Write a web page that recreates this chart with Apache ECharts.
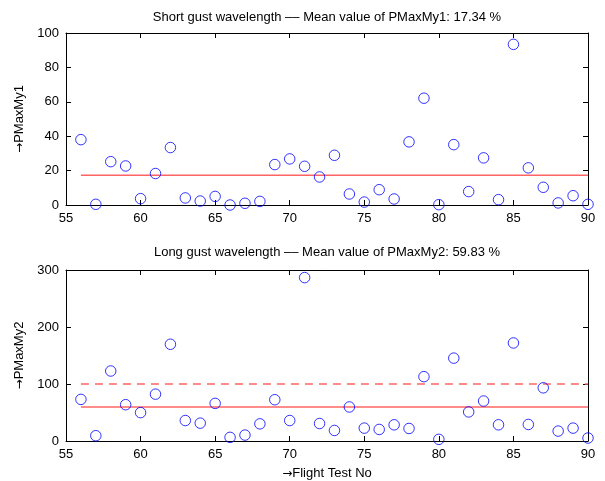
<!DOCTYPE html>
<html><head><meta charset="utf-8">
<script src="https://cdn.jsdelivr.net/npm/echarts@6/dist/echarts.min.js"></script>
<style>html,body{margin:0;padding:0;background:#fff}#c{width:605px;height:481px}</style>
</head><body><div id="c"></div>
<script>
const testNo = [56,57,58,59,60,61,62,63,64,65,66,67,68,69,70,71,72,73,74,75,76,77,78,79,80,81,82,83,84,85,86,87,88,89,90];
const pMaxMy1 = [38,0.4,25.2,22.7,3.7,18.3,33.4,4.1,2.3,5.0,0,1.0,2.1,23.5,26.8,22.5,16.3,28.9,6.4,1.7,8.9,3.5,36.7,62.1,0.2,35.1,7.8,27.4,3.1,93.4,21.6,10.3,1.2,5.4,0.4];
const pMaxMy2 = [73,9.3,122.8,63.7,49.8,82.2,169.7,35.9,31.3,66,6.4,10.4,30.1,72.4,35.9,286.7,30.7,18.5,59.7,22.6,20.3,28.4,22,112.9,2.9,145.4,51,70.1,28.4,172,29,93.3,17.4,22.6,5.2];
const mean1 = 17.34;
const mean2 = 59.83;
const limit2 = 100;
const lineX = [56, 90];
const xTicks = [55,60,65,70,75,80,85,90];
const y1Ticks = [0,20,40,60,80,100];
const y2Ticks = [0,100,200,300];
const title1 = 'Short gust wavelength –– Mean value of PMaxMy1: 17.34 %';
const title2 = 'Long gust wavelength –– Mean value of PMaxMy2: 59.83 %';
const yName1 = 'PMaxMy1';
const yName2 = 'PMaxMy2';
const xName = 'Flight Test No';
const arrow = '→';

const FONT = 'Liberation Sans, Arial, sans-serif';
const chart = echarts.init(document.getElementById('c'), null, {renderer:'canvas'});
const pts = (ys) => testNo.map((x,i)=>[x, ys[i]]);
const hline = (v) => lineX.map(x=>[x, v]);
const nameStyle = {color:'#000', fontSize:13, fontFamily:FONT,
  rich:{a:{fontFamily:'DejaVu Sans', fontSize:12, color:'#000'}, b:{fontFamily:FONT, fontSize:13, color:'#000'}}};
const richName = (s) => s ? '{a|' + arrow + '}{b|' + s + '}' : '';

function xAx(grid, labels, name) {
  return {
    type:'value', gridIndex:grid, position: labels ? 'bottom' : 'top',
    min:xTicks[0], max:xTicks[xTicks.length-1], interval:5,
    axisLine:{show:true, onZero:false, lineStyle:{color:'#000', width:1}},
    axisTick:{show:true, inside:true, length:5, lineStyle:{color:'#000'}},
    axisLabel:{show:labels, color:'#000', fontSize:13, fontFamily:FONT, margin:7},
    splitLine:{show:false},
    name: richName(name), nameLocation:'middle', nameGap:26,
    nameTextStyle:nameStyle
  };
}
function yAx(grid, labels, ticks, name) {
  return {
    type:'value', gridIndex:grid, position: labels ? 'left' : 'right',
    min:ticks[0], max:ticks[ticks.length-1], interval:ticks[1]-ticks[0],
    axisLine:{show:true, onZero:false, lineStyle:{color:'#000', width:1}},
    axisTick:{show:true, inside:true, length:5, lineStyle:{color:'#000'}},
    axisLabel:{show:labels, color:'#000', fontSize:13, fontFamily:FONT, margin:7},
    splitLine:{show:false},
    name: richName(name), nameLocation:'middle', nameGap:35, nameRotate:90,
    nameTextStyle:nameStyle
  };
}
const scat = (xi, yi, ys) => ({
  type:'scatter', xAxisIndex:xi, yAxisIndex:yi, data:pts(ys), symbol:'circle', symbolSize:10.5, clip:false,
  itemStyle:{color:'rgba(0,0,0,0)', borderColor:'#0000ff', borderWidth:1}, z:5
});
const ln = (xi, yi, v, type) => ({
  type:'line', xAxisIndex:xi, yAxisIndex:yi, data:hline(v), symbol:'none',
  lineStyle:{color:'#ff6464', width:1.5, type:type}, z:3
});

chart.setOption({
  animation:false,
  grid:[
    {left:66, top:33, width:522, height:172, show:false},
    {left:66, top:270, width:522, height:172, show:false}
  ],
  xAxis:[ xAx(0,true), xAx(0,false), xAx(1,true,xName), xAx(1,false) ],
  yAxis:[ yAx(0,true,y1Ticks,yName1), yAx(0,false,y1Ticks), yAx(1,true,y2Ticks,yName2), yAx(1,false,y2Ticks) ],
  series:[
    ln(0,0,mean1,'solid'),
    scat(0,0,pMaxMy1),
    ln(2,2,mean2,'solid'),
    ln(2,2,limit2,[8,6]),
    scat(2,2,pMaxMy2)
  ],
  graphic:[
    {type:'text', x:327, y:17, style:{text:title1, fill:'#000', font:'13px '+FONT, textAlign:'center', textVerticalAlign:'middle'}},
    {type:'text', x:327, y:252, style:{text:title2, fill:'#000', font:'13px '+FONT, textAlign:'center', textVerticalAlign:'middle'}}
  ]
});
</script></body></html>
